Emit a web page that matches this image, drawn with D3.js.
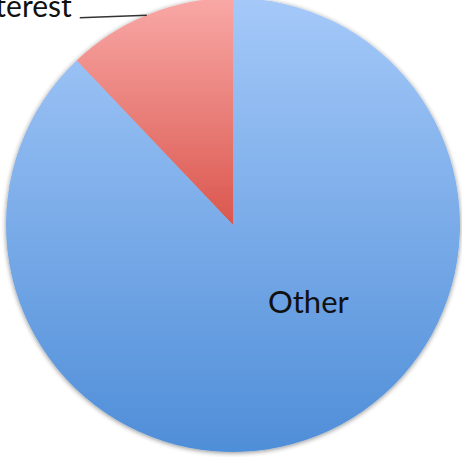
<!DOCTYPE html>
<html>
<head>
<meta charset="utf-8">
<script src="https://cdn.jsdelivr.net/npm/d3@7"></script>
<style>
  html, body { margin: 0; padding: 0; background: #fff; }
  svg { display: block; }
</style>
</head>
<body>
<script>
// Slice categories and their shares (percent)
const categories = ["Interest", "Other"];
const values = [12.1, 87.9];
const showLabel = ["Interest", "Other"];

const width = 462, height = 457;
const cx = 233, cy = 225, radius = 227;

const svg = d3.select("body").append("svg")
  .attr("width", width).attr("height", height);

const defs = svg.append("defs");

// Vertical shading for each slice
const gradStops = {
  Interest: ["#f9a8a6", "#da574e"],
  Other: ["#a5c9f9", "#4f8ed8"]
};
categories.forEach((c, i) => {
  const g = defs.append("linearGradient")
    .attr("id", "grad" + i)
    .attr("x1", 0).attr("y1", 0).attr("x2", 0).attr("y2", 1);
  g.append("stop").attr("offset", "0%").attr("stop-color", gradStops[c][0]);
  g.append("stop").attr("offset", "100%").attr("stop-color", gradStops[c][1]);
});

// Soft shadow along the rim
const f = defs.append("filter").attr("id", "shadow")
  .attr("x", "-10%").attr("y", "-10%").attr("width", "120%").attr("height", "120%");
f.append("feGaussianBlur").attr("in", "SourceAlpha").attr("stdDeviation", 2.5).attr("result", "b");
f.append("feOffset").attr("in", "b").attr("dx", 0).attr("dy", 1).attr("result", "o");
f.append("feComponentTransfer").attr("in", "o").attr("result", "s")
  .append("feFuncA").attr("type", "linear").attr("slope", 0.45);
const m = f.append("feMerge");
m.append("feMergeNode").attr("in", "s");
m.append("feMergeNode").attr("in", "SourceGraphic");

const data = categories.map((c, i) => ({ name: c, value: values[i], idx: i }));

// Counter-clockwise from 12 o'clock: first slice sits just left of the top
const pie = d3.pie()
  .value(d => d.value)
  .sort(null)
  .startAngle(0)
  .endAngle(-2 * Math.PI);

const arc = d3.arc().innerRadius(0).outerRadius(radius);

const g = svg.append("g").attr("transform", `translate(${cx},${cy})`);

const arcs = pie(data);

g.append("g").attr("filter", "url(#shadow)")
  .selectAll("path")
  .data(arcs)
  .join("path")
  .attr("d", arc)
  .attr("fill", d => `url(#grad${d.data.idx})`);

const labelFont = "Lato, 'Open Sans', sans-serif";

// "Other" label placed inside its slice
g.append("text")
  .attr("x", 35)
  .attr("y", 88)
  .attr("text-anchor", "start")
  .attr("font-family", labelFont)
  .attr("font-size", 31)
  .attr("fill", "#111")
  .text(showLabel[1]);

// "Interest" label outside with a leader line to the rim
const inter = arcs[0];
const mid = (inter.startAngle + inter.endAngle) / 2;
const rimPt = [Math.sin(mid) * radius, -Math.cos(mid) * radius];
const lineEnd = [rimPt[0] - 2, rimPt[1] + 1];
const lineStart = [lineEnd[0] - 67, lineEnd[1] + 2.5];

g.append("line")
  .attr("x1", lineStart[0]).attr("y1", lineStart[1])
  .attr("x2", lineEnd[0]).attr("y2", lineEnd[1])
  .attr("stroke", "#333").attr("stroke-width", 1.5);

g.append("text")
  .attr("x", lineStart[0] - 8)
  .attr("y", lineStart[1] - 0.5)
  .attr("text-anchor", "end")
  .attr("font-family", labelFont)
  .attr("font-size", 30)
  .attr("fill", "#111")
  .text(showLabel[0]);
</script>
</body>
</html>
